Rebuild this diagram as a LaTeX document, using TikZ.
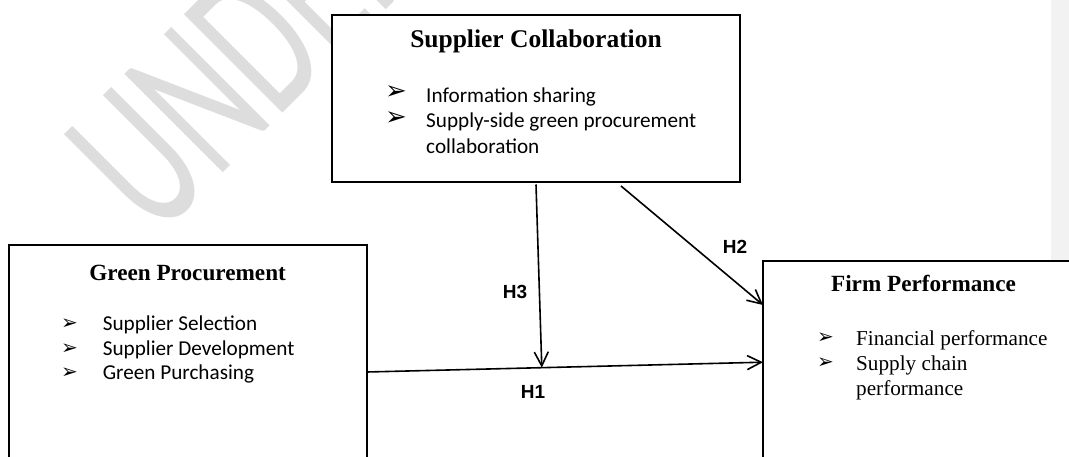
\documentclass[tikz,border=0pt]{standalone}
\usepackage{fontspec}
\setmainfont{Liberation Serif}
\newfontfamily\calibri{Carlito}
\newfontfamily\arialf{Liberation Sans}
\newfontfamily\dejavu{DejaVu Sans}
\usetikzlibrary{arrows.meta,calc}
\definecolor{wmgray}{RGB}{221,221,221}
\definecolor{sidegray}{RGB}{242,242,242}
\tikzset{
  box/.style={draw=black, line width=2pt, fill=white, anchor=north west, inner sep=0pt, outer sep=0pt},
  ttlbig/.style={font=\fontsize{25.5}{28}\selectfont\bfseries, anchor=base, inner sep=0pt},
  ttl/.style={font=\fontsize{23.2}{26}\selectfont\bfseries, anchor=base, inner sep=0pt},
  itemc/.style={font=\calibri\fontsize{21.2}{24}\selectfont, anchor=base west, inner sep=0pt},
  itemt/.style={font=\fontsize{21.2}{24}\selectfont, anchor=base west, inner sep=0pt},
  bulbig/.style={font=\dejavu\fontsize{26}{26}\selectfont, inner sep=0pt},
  bulsmall/.style={font=\dejavu\fontsize{20}{20}\selectfont, inner sep=0pt},
  hlab/.style={font=\arialf\bfseries\fontsize{19}{20}\selectfont, inner sep=0pt},
  conn/.style={line width=1.6pt, -{Straight Barb[length=14pt,width=14pt,line width=1.6pt]}},
}
\begin{document}
\begin{tikzpicture}[x=1pt,y=-1pt]
\useasboundingbox (0,0) rectangle (1069,456);
\fill[white] (0,0) rectangle (1069,456);
\begin{scope}
\clip (0,0) rectangle (1069,456);
% side bar
\fill[sidegray] (1051,0) rectangle (1069,456);
% watermark
\node[rotate=45, xscale=0.61, anchor=base west, text=wmgray, inner sep=0pt,
      font=\calibri\fontsize{217}{217}\selectfont] (wm) at (156,240) {UNDER PEER REVIEW};
% boxes
\node[box, minimum width=408pt, minimum height=167pt] (sc) at (332,14.5) {};
\node[box, minimum width=358pt, minimum height=235pt] (gp) at (8.6,245) {};
\node[box, minimum width=337pt, minimum height=220pt] (fp) at (763,260.6) {};

% Supplier Collaboration
\node[ttlbig] (sct) at (536,47) {Supplier Collaboration};
\node[bulbig] (scb1) at (396,93) {➢};
\node[itemc] (sci1) at (426,102) {Information sharing};
\node[bulbig] (scb2) at (396,118.5) {➢};
\node[itemc] (sci2) at (426,127.5) {Supply-side green procurement};
\node[itemc] (sci3) at (426,153) {collaboration};

% Green Procurement
\node[ttl] (gpt) at (187.6,280) {Green Procurement};
\node[bulsmall] (gpb1) at (69.5,324) {➢};
\node[itemc] (gpi1) at (102.6,330) {Supplier Selection};
\node[bulsmall] (gpb2) at (69.5,349) {➢};
\node[itemc] (gpi2) at (102.6,355) {Supplier Development};
\node[bulsmall] (gpb3) at (69.5,373) {➢};
\node[itemc] (gpi3) at (102.6,379) {Green Purchasing};

% Firm Performance
\node[ttl] (fpt) at (923.5,291.5) {Firm Performance};
\node[bulsmall] (fpb1) at (825.5,338) {➢};
\node[itemt] (fpi1) at (856,345) {Financial performance};
\node[bulsmall] (fpb2) at (825.5,363.5) {➢};
\node[itemt] (fpi2) at (856,370) {Supply chain};
\node[itemt] (fpi3) at (856,395) {performance};

% connectors
\coordinate (h1s) at ([yshift=-127pt]gp.north east);
\coordinate (h1e) at ([yshift=-101.6pt]fp.north west);
\coordinate (h3e) at ($(h1s)!0.442!(h1e)$);
\draw[conn] (h1s) -- (h1e);
\draw[conn] ([yshift=-3pt]sc.south) -- (h3e);
\draw[conn] ([xshift=-119pt,yshift=-4.5pt]sc.south east) -- ([yshift=-44.4pt]fp.north west);

% labels
\node[hlab] (h1) at (533,392) {H1};
\node[hlab] (h2) at (735,247) {H2};
\node[hlab] (h3) at (515,292) {H3};
\end{scope}
\end{tikzpicture}
\end{document}
